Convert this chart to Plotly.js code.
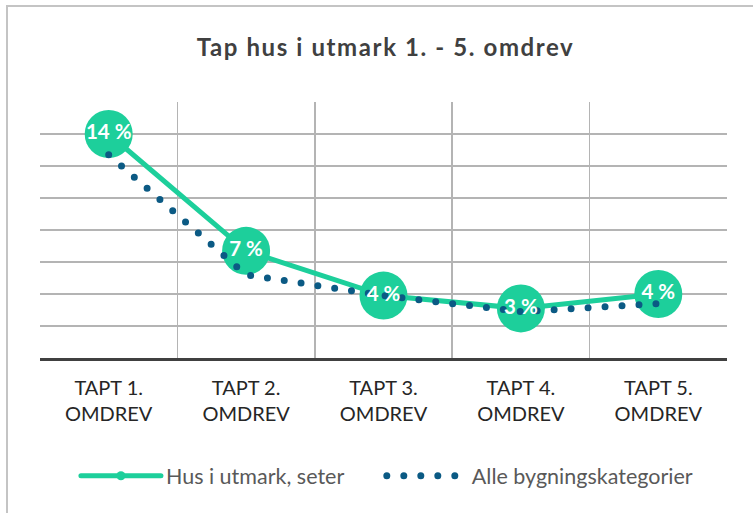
<!DOCTYPE html>
<html>
<head>
<meta charset="utf-8">
<script src="https://cdn.plot.ly/plotly-3.0.1.min.js"></script>
<style>
  html, body { margin: 0; padding: 0; background: #fff; }
  #wrap { position: relative; width: 753px; height: 513px; }
  #chart { position: absolute; left: 0; top: 0; width: 753px; height: 513px; }
  #frame { position: absolute; left: 6px; top: 5px; width: 760px; height: 520px;
           border: 2px solid #c4c4c4; box-sizing: border-box; pointer-events: none; }
  .js-line { stroke-linecap: round !important; }
  .gtitle { letter-spacing: 1.6px; }
</style>
</head>
<body>
<div id="wrap">
  <div id="chart"></div>
  <div id="frame"></div>
</div>
<script>
// ---- data ----
const categories = ["TAPT 1.<br>OMDREV", "TAPT 2.<br>OMDREV", "TAPT 3.<br>OMDREV", "TAPT 4.<br>OMDREV", "TAPT 5.<br>OMDREV"];
const husUtmark = [14.0, 6.7, 3.9, 3.1, 4.0];
const alleKategorier = [12.7, 5.2, 3.9, 2.9, 3.4];
const seriesNames = ["Hus i utmark, seter", "Alle bygningskategorier"];
const chartTitle = "Tap hus i utmark 1. - 5. omdrev";

const green = "#1dcf9b";
const blue = "#0b5a84";
const FONT = "Lato, 'Open Sans', sans-serif";
const legendPad = "\u00a0".repeat(6);

const traces = [
  { // green line + big markers
    x: categories, y: husUtmark, type: "scatter", mode: "lines+markers",
    line: { color: green, width: 5 },
    marker: { color: green, size: 48 },
    showlegend: false, hoverinfo: "skip"
  },
  { // blue dotted line
    x: categories, y: alleKategorier, type: "scatter", mode: "lines",
    line: { color: blue, width: 7, dash: "0px,17px" },
    showlegend: false, hoverinfo: "skip"
  },
  { // data labels on top
    x: categories, y: husUtmark, type: "scatter", mode: "text",
    texttemplate: "%{y:.0f} %", textposition: "middle center",
    textfont: { color: "#ffffff", size: 20.5, family: FONT, weight: "bold" },
    showlegend: false, hoverinfo: "skip"
  },
  { // legend entries
    x: [null], y: [null], type: "scatter", mode: "lines+markers", name: seriesNames[0] + legendPad,
    line: { color: green, width: 5 }, marker: { color: green, size: 9 }
  },
  {
    x: [null], y: [null], type: "scatter", mode: "lines", name: seriesNames[1],
    line: { color: blue, width: 7, dash: "0px,17px" }
  }
];

const layout = {
  width: 753, height: 513,
  margin: { l: 40, r: 26, t: 102, b: 155 },
  paper_bgcolor: "#ffffff", plot_bgcolor: "#ffffff",
  title: {
    text: "<b>" + chartTitle + "</b>",
    font: { family: FONT, size: 24, color: "#404040" },
    x: 0.512, xanchor: "center", y: 0.907, yanchor: "middle"
  },
  xaxis: {
    type: "category", range: [-0.5, 4.5],
    tickson: "boundaries", showgrid: true, gridcolor: "#b4b4b4", gridwidth: 1.5,
    ticks: "", ticklabelstandoff: 10,
    showline: true, linecolor: "#404040", linewidth: 3,
    tickfont: { family: FONT, size: 20, color: "#262626" },
    zeroline: false, fixedrange: true
  },
  yaxis: {
    range: [0, 16], dtick: 2, showticklabels: false, ticks: "",
    showgrid: true, gridcolor: "#b4b4b4", gridwidth: 1.5,
    zeroline: false, fixedrange: true
  },
  showlegend: true,
  legend: {
    orientation: "h", x: 0.505, xanchor: "center", y: -0.46, yanchor: "middle",
    font: { family: FONT, size: 21.5, color: "#595959" },
    itemwidth: 80, tracegroupgap: 0, bgcolor: "rgba(0,0,0,0)"
  }
};

Plotly.newPlot("chart", traces, layout, { staticPlot: true, displayModeBar: false });
</script>
</body>
</html>
